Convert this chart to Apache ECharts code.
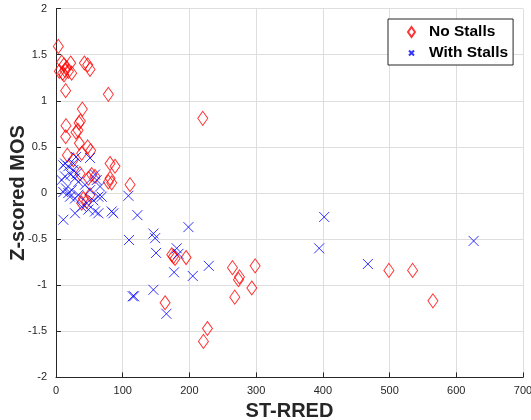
<!DOCTYPE html>
<html>
<head>
<meta charset="utf-8">
<script src="https://cdn.jsdelivr.net/npm/echarts@6/dist/echarts.min.js"></script>
<style>
  html, body { margin: 0; padding: 0; background: #fff; }
  #chart { width: 531px; height: 420px; }
</style>
</head>
<body>
<div id="chart"></div>
<script>
// ST-RRED vs Z-scored MOS, split by stall presence
const noStallsX = [3.5, 8.5, 12, 5, 10, 13.5, 18.5, 22, 23.5, 12, 16, 42.5, 47.5, 51, 14.5, 78.5,
  39.5, 36.5, 34.5, 15, 30, 33, 14.5, 35, 47.5, 52, 17, 38.5, 26, 81, 88.5, 81, 83.5, 78.5, 111,
  48.5, 58.5, 36, 53.5, 46, 41, 51, 38.5, 220, 176, 173.5, 178.5, 195, 163.5, 227, 221,
  264.5, 298.5, 275, 273.5, 293.5, 268, 499, 534.5, 565];
const noStallsY = [1.59, 1.42, 1.39, 1.32, 1.30, 1.33, 1.32, 1.41, 1.30, 1.28, 1.36, 1.41, 1.39, 1.34, 1.11, 1.07,
  0.91, 0.78, 0.76, 0.73, 0.66, 0.68, 0.61, 0.54, 0.50, 0.46, 0.41, 0.43, 0.36, 0.32, 0.29, 0.16, 0.11, 0.12, 0.09,
  0.16, 0.18, 0.21, 0.20, -0.09, -0.06, -0.02, -0.11, 0.81, -0.69, -0.67, -0.71, -0.70, -1.19, -1.47, -1.61,
  -0.81, -0.79, -0.91, -0.94, -1.03, -1.13, -0.84, -0.84, -1.17];

const withStallsX = [11, 18.5, 26, 31, 22, 13.5, 8.5, 28.5, 33.5, 11, 18.5, 23.5, 15, 21, 28.5, 33.5,
  43.5, 51, 58.5, 61, 66, 56, 63.5, 38.5, 48.5, 58.5, 63.5, 83.5, 11, 28.5, 46, 30, 51, 26,
  108.5, 86, 122, 198.5, 146, 148.5, 109.5, 150, 181, 183.5, 229, 177, 205, 115, 117, 146, 165.5,
  402, 394.5, 467.5, 626, 68.5, 13.5];
const withStallsY = [0.30, 0.29, 0.25, 0.21, 0.20, 0.18, 0.14, 0.16, 0.12, 0.01, 0.00, 0.03, 0.05, -0.04, -0.06, -0.02,
  0.09, 0.03, 0.20, 0.14, 0.07, -0.08, -0.04, -0.15, -0.18, -0.20, -0.22, -0.20, -0.29, -0.22, -0.11, 0.39, 0.38, 0.32,
  -0.03, -0.22, -0.24, -0.37, -0.44, -0.49, -0.51, -0.65, -0.60, -0.66, -0.79, -0.86, -0.90, -1.12, -1.12, -1.05, -1.31,
  -0.26, -0.60, -0.77, -0.52, -0.04, 0.32];

const xTicks = { min: 0, max: 700, step: 100 };
const yTicks = { min: -2, max: 2, step: 0.5 };

const pairs = (xs, ys) => xs.map((x, i) => [x, ys[i]]);

const crossPath = 'path://M0,0L10,10M10,0L0,10';
const crossIcon = 'path://M0,0M7,10M1,2.5L6,7.5M6,2.5L1,7.5';

const axisColor = '#262626';
const gridColor = '#dedede';
const font = '"Liberation Sans", Arial, Helvetica, sans-serif';

const chart = echarts.init(document.getElementById('chart'), null, { renderer: 'canvas' });
chart.setOption({
  animation: false,
  backgroundColor: '#ffffff',
  grid: { left: 56, right: 8, top: 8.6, bottom: 42.6, outerBoundsMode: 'none', containLabel: false },
  xAxis: {
    type: 'value', min: xTicks.min, max: xTicks.max, interval: xTicks.step,
    name: 'ST-RRED', nameLocation: 'middle', nameGap: 24, nameMoveOverlap: false,
    nameTextStyle: { fontFamily: font, fontSize: 20, fontWeight: 'bold', color: axisColor },
    axisLine: { show: true, onZero: false, lineStyle: { color: axisColor, width: 1 } },
    axisTick: { show: true, inside: true, length: 5, lineStyle: { color: axisColor } },
    axisLabel: { fontFamily: font, fontSize: 11, color: axisColor, margin: 8 },
    splitLine: { show: true, showMinLine: true, showMaxLine: true, lineStyle: { color: gridColor, width: 1 } }
  },
  yAxis: {
    type: 'value', min: yTicks.min, max: yTicks.max, interval: yTicks.step,
    name: 'Z-scored MOS', nameLocation: 'middle', nameGap: 28, nameMoveOverlap: false,
    nameTextStyle: { fontFamily: font, fontSize: 20, fontWeight: 'bold', color: axisColor },
    axisLine: { show: true, onZero: false, lineStyle: { color: axisColor, width: 1 } },
    axisTick: { show: true, inside: true, length: 5, lineStyle: { color: axisColor } },
    axisLabel: { fontFamily: font, fontSize: 11, color: axisColor, margin: 9 },
    splitLine: { show: true, showMinLine: true, showMaxLine: true, lineStyle: { color: gridColor, width: 1 } }
  },
  legend: {
    orient: 'vertical', left: 388, top: 19,
    padding: [4, 5, 3, 19], itemGap: 3,
    itemWidth: 7, itemHeight: 10,
    backgroundColor: '#ffffff', borderColor: axisColor, borderWidth: 1,
    textStyle: { fontFamily: font, fontSize: 15.5, lineHeight: 18, fontWeight: 'bold', color: '#000', padding: [0, 0, 0, 9] },
    data: [
      { name: 'No Stalls', icon: 'diamond' },
      { name: 'With Stalls', icon: crossIcon }
    ]
  },
  series: [
    {
      name: 'No Stalls', type: 'scatter', symbol: 'diamond', symbolSize: [10, 14],
      itemStyle: { color: 'rgba(0,0,0,0)', borderColor: '#ff0000', borderWidth: 1 },
      emphasis: { disabled: true },
      data: pairs(noStallsX, noStallsY)
    },
    {
      name: 'With Stalls', type: 'scatter', symbol: crossPath, symbolSize: [10, 10],
      itemStyle: { color: 'rgba(0,0,0,0)', borderColor: '#0000ff', borderWidth: 1 },
      emphasis: { disabled: true },
      data: pairs(withStallsX, withStallsY)
    }
  ]
});
</script>
</body>
</html>
